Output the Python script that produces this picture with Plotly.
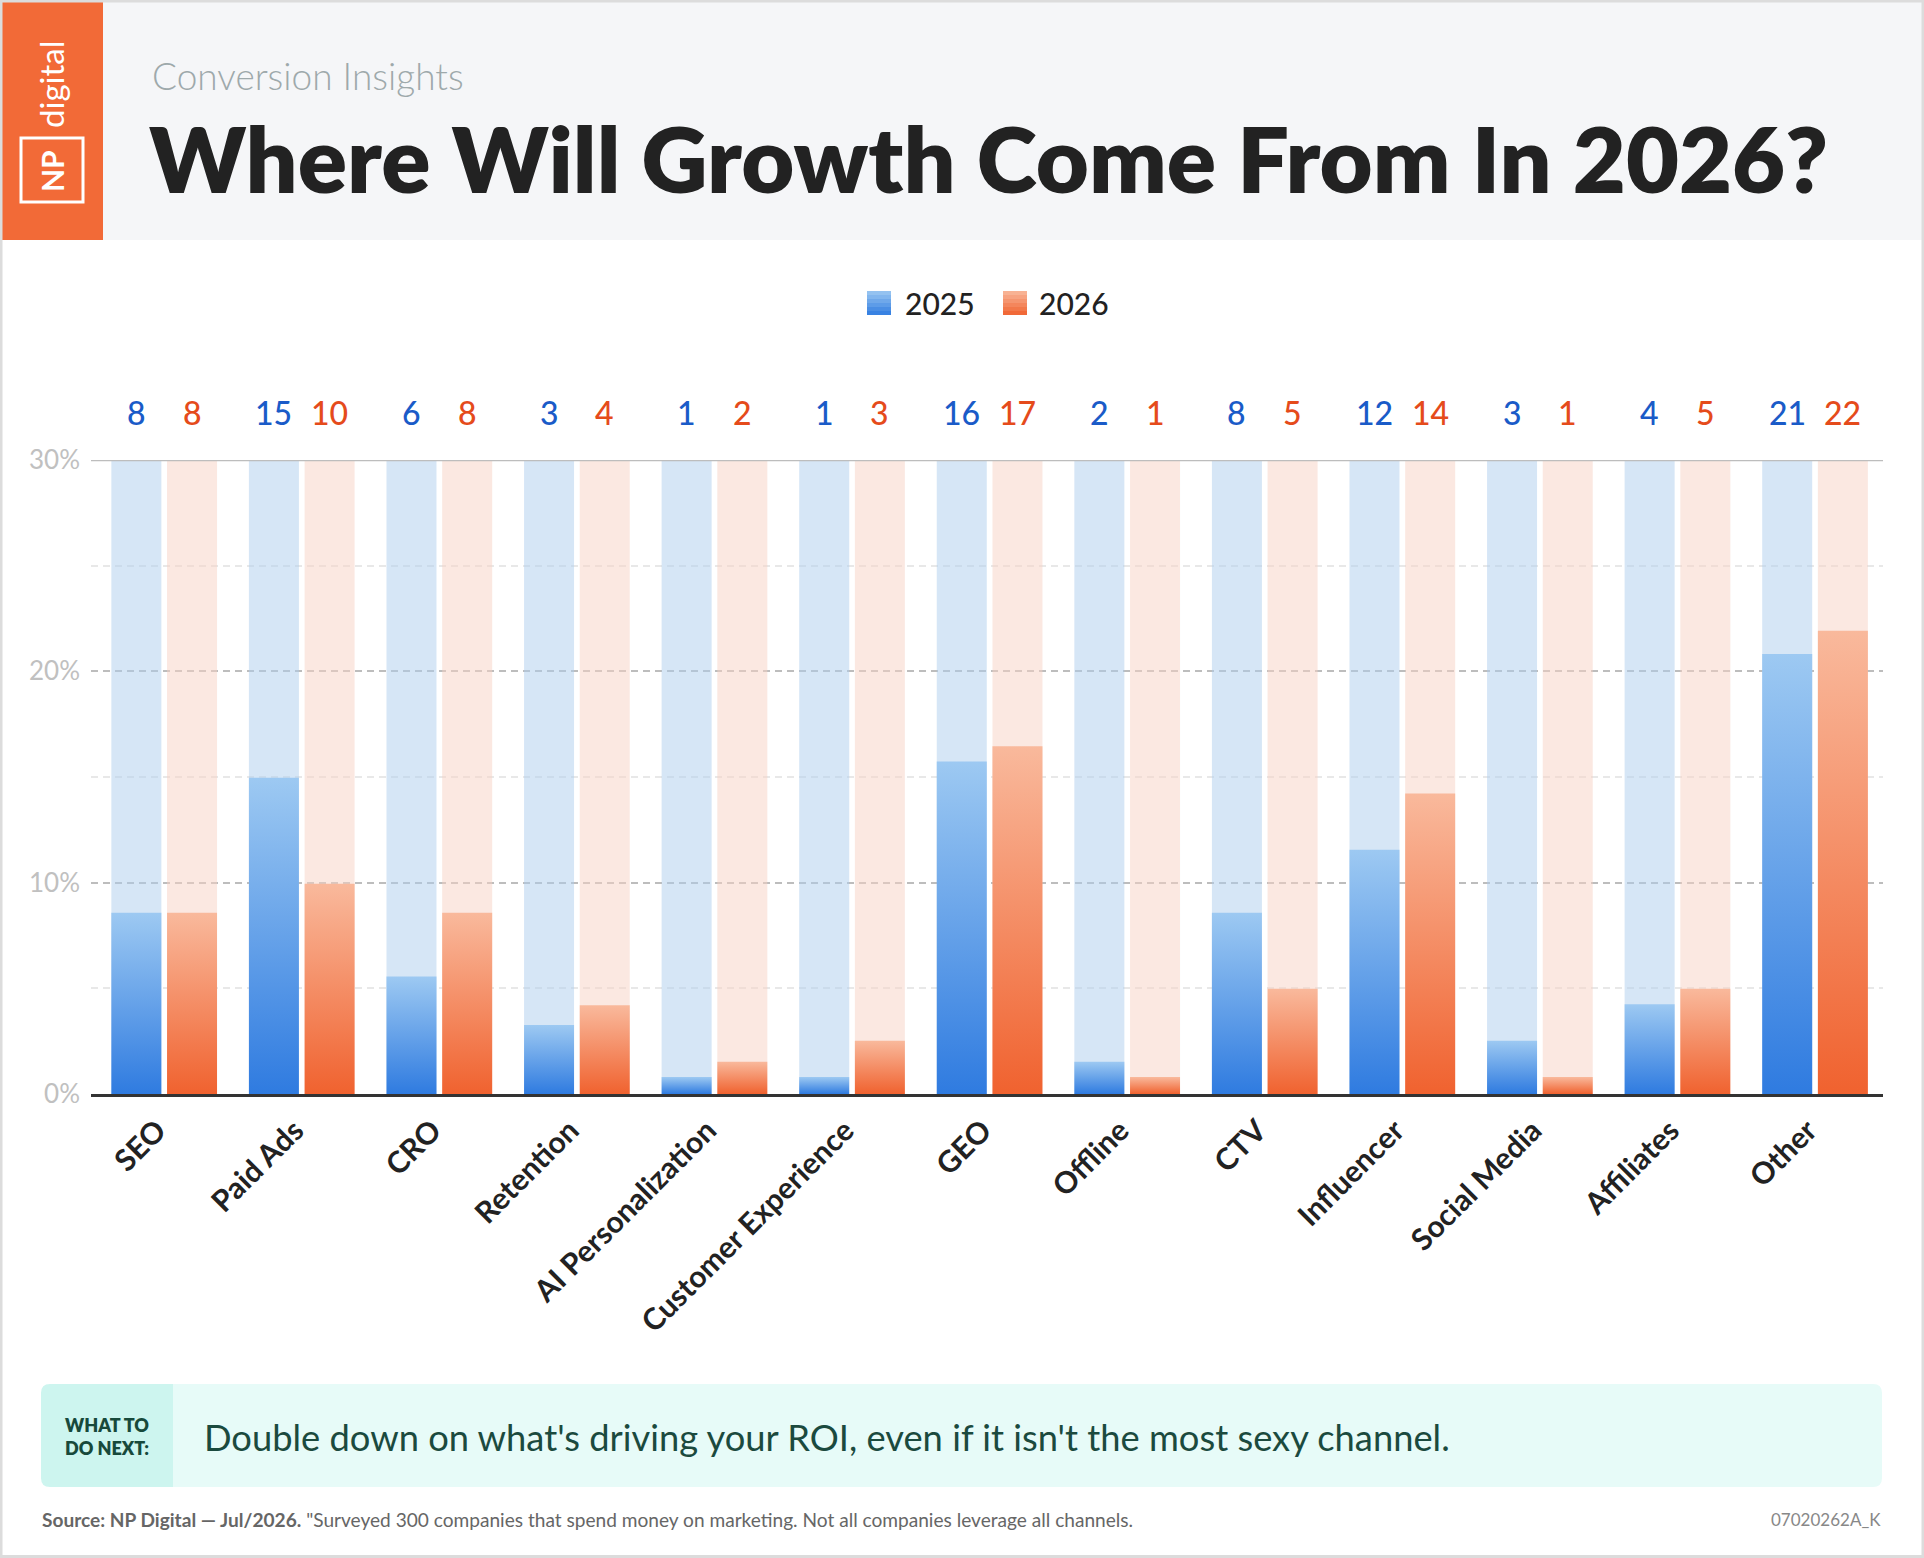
import plotly.graph_objects as go

# ---------------- data ----------------
categories = ["SEO", "Paid Ads", "CRO", "Retention", "AI Personalization",
              "Customer Experience", "GEO", "Offline", "CTV", "Influencer",
              "Social Media", "Affiliates", "Other"]
share_2025 = [8.58, 14.96, 5.56, 3.26, 0.80, 0.80, 15.73, 1.53, 8.58, 11.56, 2.52, 4.25, 20.82]
share_2026 = [8.58, 9.95, 8.58, 4.20, 1.53, 2.52, 16.46, 0.80, 4.98, 14.22, 0.80, 4.98, 21.92]
label_2025 = [8, 15, 6, 3, 1, 1, 16, 2, 8, 12, 3, 4, 21]
label_2026 = [8, 10, 8, 4, 2, 3, 17, 1, 5, 14, 1, 5, 22]
years = ["2025", "2026"]
y_max = 30
y_ticks = [0, 10, 20, 30]
y_tick_labels = ["0%", "10%", "20%", "30%"]
y_minor_ticks = [5, 15, 25]

# ---------------- styling ----------------
W, H = 1924, 1558
PL, PR, PT, PB = 91, 1883, 460, 1094
BAR_W = 0.3634
HALF_GAP = 0.0207
FONT = "Lato"

series = [
    dict(name=years[0], vals=share_2025, labels=label_2025, offset=-(HALF_GAP + BAR_W),
         bg="rgba(173,205,237,0.5)", dark="#2f7be0", light="#9dc9f2", txt="#1a5bc8"),
    dict(name=years[1], vals=share_2026, labels=label_2026, offset=HALF_GAP,
         bg="rgba(248,209,195,0.5)", dark="#f0622f", light="#f9b99c", txt="#e54b1b"),
]


def px(x):
    return (x - PL) / (PR - PL)


def py(y):
    return (PB - y) / (PB - PT)


fig = go.Figure()
idx = list(range(len(categories)))

# background (full-scale) bars
for s in series:
    fig.add_trace(go.Bar(
        x=idx, y=[y_max] * len(idx), width=BAR_W, offset=s["offset"],
        marker=dict(color=s["bg"], line=dict(width=0)),
        showlegend=False, hoverinfo="skip"))

# value bars with vertical gradient (one filled shape per bar)
for s in series:
    for i, v in zip(idx, s["vals"]):
        x0 = i + s["offset"]
        x1 = x0 + BAR_W
        fig.add_trace(go.Scatter(
            x=[x0, x1, x1, x0, x0], y=[0, 0, v, v, 0],
            mode="lines", line=dict(width=0), fill="toself",
            fillcolor=s["dark"],
            fillgradient=dict(type="vertical",
                              colorscale=[[0, s["dark"]], [1, s["light"]]]),
            showlegend=False, hoverinfo="skip", name=s["name"]))

annotations = []
# value labels above the plot
for s in series:
    for i, lab in zip(idx, s["labels"]):
        annotations.append(dict(
            x=i + s["offset"] + BAR_W / 2, y=y_max, xref="x", yref="y",
            text=str(lab), showarrow=False, yanchor="middle", yshift=48,
            font=dict(family=FONT, size=32, color=s["txt"], weight=500)))

shapes = []
# outer page: header band
shapes.append(dict(type="rect", xref="paper", yref="paper",
                   x0=px(0), x1=px(W), y0=py(240), y1=py(0),
                   fillcolor="#f5f6f8", line=dict(width=0), layer="below"))
shapes.append(dict(type="rect", xref="paper", yref="paper",
                   x0=px(0), x1=px(103), y0=py(240), y1=py(0),
                   fillcolor="#f26a37", line=dict(width=0), layer="below"))
# logo box
shapes.append(dict(type="rect", xref="paper", yref="paper",
                   x0=px(21), x1=px(83), y0=py(202), y1=py(138),
                   fillcolor="rgba(0,0,0,0)", line=dict(width=3, color="white"), layer="above"))
annotations.append(dict(x=px(52), y=py(171), xref="paper", yref="paper", text="NP",
                        showarrow=False, textangle=-90, xanchor="center", yanchor="middle",
                        font=dict(family=FONT, size=30, color="white", weight=700)))
annotations.append(dict(x=px(51), y=py(84), xref="paper", yref="paper", text="digital",
                        showarrow=False, textangle=-90, xanchor="center", yanchor="middle",
                        font=dict(family=FONT, size=33, color="white", weight=400)))

# header texts
annotations.append(dict(x=px(150), y=py(75), xref="paper", yref="paper",
                        text="Conversion Insights", showarrow=False,
                        xanchor="left", yanchor="middle",
                        font=dict(family=FONT, size=37, color="#9ea9ab", weight=300)))
annotations.append(dict(x=px(147), y=py(157), xref="paper", yref="paper",
                        text="Where Will Growth Come From In 2026?", showarrow=False,
                        xanchor="left", yanchor="middle",
                        font=dict(family=FONT, size=91.5, color="#222222", weight=800)))

# legend (manual)
def hx(c):
    c = c.lstrip("#")
    return [int(c[j:j + 2], 16) for j in (0, 2, 4)]


leg = [(867, 903, series[0]), (1003, 1037, series[1])]
for sx, tx, s in leg:
    n = 6
    a, b = hx(s["light"]), hx(s["dark"])
    for k in range(n):
        t = (k + 0.5) / n
        col = "rgb(%d,%d,%d)" % tuple(round(a[j] + (b[j] - a[j]) * t) for j in range(3))
        shapes.append(dict(type="rect", xref="paper", yref="paper",
                           x0=px(sx), x1=px(sx + 24),
                           y0=py(291 + 4 * (k + 1)), y1=py(291 + 4 * k),
                           fillcolor=col, line=dict(width=0), layer="above"))
    annotations.append(dict(x=px(tx), y=py(303), xref="paper", yref="paper",
                            text=s["name"], showarrow=False, xanchor="left", yanchor="middle",
                            font=dict(family=FONT, size=30, color="#222222", weight=500)))

# top solid line at 30%
shapes.append(dict(type="line", xref="paper", yref="y", x0=0, x1=1, y0=y_max, y1=y_max,
                   line=dict(color="#bdbdbd", width=2.5), layer="above"))


# bottom "what to do next" box
def rounded(x0, x1, y0, y1, r, left=True, right=True):
    X0, X1 = px(x0), px(x1)
    Y0, Y1 = py(y1), py(y0)  # Y0 bottom, Y1 top in paper
    rx = r / (PR - PL)
    ry = r / (PB - PT)
    p = []
    if left:
        p.append(f"M {X0} {Y1 - ry}")
        p.append(f"Q {X0} {Y1} {X0 + rx} {Y1}")
    else:
        p.append(f"M {X0} {Y1}")
    if right:
        p.append(f"L {X1 - rx} {Y1}")
        p.append(f"Q {X1} {Y1} {X1} {Y1 - ry}")
        p.append(f"L {X1} {Y0 + ry}")
        p.append(f"Q {X1} {Y0} {X1 - rx} {Y0}")
    else:
        p.append(f"L {X1} {Y1}")
        p.append(f"L {X1} {Y0}")
    if left:
        p.append(f"L {X0 + rx} {Y0}")
        p.append(f"Q {X0} {Y0} {X0} {Y0 + ry}")
    else:
        p.append(f"L {X0} {Y0}")
    p.append("Z")
    return " ".join(p)


shapes.append(dict(type="path", xref="paper", yref="paper",
                   path=rounded(173, 1882, 1384, 1487, 9, left=False, right=True),
                   fillcolor="#e7fbf8", line=dict(width=0), layer="above"))
shapes.append(dict(type="path", xref="paper", yref="paper",
                   path=rounded(41, 173, 1384, 1487, 9, left=True, right=False),
                   fillcolor="#cdf5ef", line=dict(width=0), layer="above"))
annotations.append(dict(x=px(107), y=py(1436), xref="paper", yref="paper",
                        text="WHAT TO<br>DO NEXT:", showarrow=False, align="left",
                        xanchor="center", yanchor="middle",
                        font=dict(family=FONT, size=18, color="#17493b", weight=800)))
annotations.append(dict(x=px(202), y=py(1437), xref="paper", yref="paper",
                        text="Double down on what's driving your ROI, even if it isn't the most sexy channel.",
                        showarrow=False, xanchor="left", yanchor="middle",
                        font=dict(family=FONT, size=36.3, color="#1b4a3e", weight=400)))

# source line
annotations.append(dict(x=px(40), y=py(1519), xref="paper", yref="paper",
                        text="<b>Source: NP Digital — Jul/2026.</b> \"Surveyed 300 companies that spend money on marketing. Not all companies leverage all channels.",
                        showarrow=False, xanchor="left", yanchor="middle",
                        font=dict(family=FONT, size=19.1, color="#666666")))
annotations.append(dict(x=px(1883), y=py(1519), xref="paper", yref="paper",
                        text="07020262A_K", showarrow=False, xanchor="right", yanchor="middle",
                        font=dict(family=FONT, size=17, color="#888888")))

# page border
shapes.append(dict(type="rect", xref="paper", yref="paper",
                   x0=px(1), x1=px(W - 1), y0=py(H - 1.5), y1=py(1),
                   fillcolor="rgba(0,0,0,0)", line=dict(width=3, color="#dcdcdc"), layer="above"))

fig.update_layout(
    width=W, height=H,
    margin=dict(l=PL, r=W - PR, t=PT, b=H - PB, pad=0),
    paper_bgcolor="white", plot_bgcolor="white",
    barmode="overlay", showlegend=False,
    shapes=shapes, annotations=annotations,
    xaxis=dict(range=[-0.532, len(categories) - 1 + 0.494],
               tickmode="array", tickvals=[i - 0.05 for i in idx], ticktext=categories,
               tickangle=-45,
               tickfont=dict(family=FONT, size=30, color="#222222", weight=700),
               showgrid=False, zeroline=False, showline=True,
               linecolor="#333333", linewidth=3, ticks="", ticklabelstandoff=4),
    yaxis=dict(range=[0, y_max], tickmode="array", tickvals=y_ticks, ticktext=y_tick_labels,
               tickfont=dict(family=FONT, size=26, color="#c0c0c0"),
               showgrid=True, gridcolor="#bdbdbd", gridwidth=2, griddash="7px,5px",
               zeroline=False, showline=False, ticks="", ticklabelstandoff=10,
               minor=dict(tickvals=y_minor_ticks, showgrid=True, gridcolor="#e8e8e8",
                          gridwidth=2, griddash="7px,5px")),
)

fig.write_html("out.html")
